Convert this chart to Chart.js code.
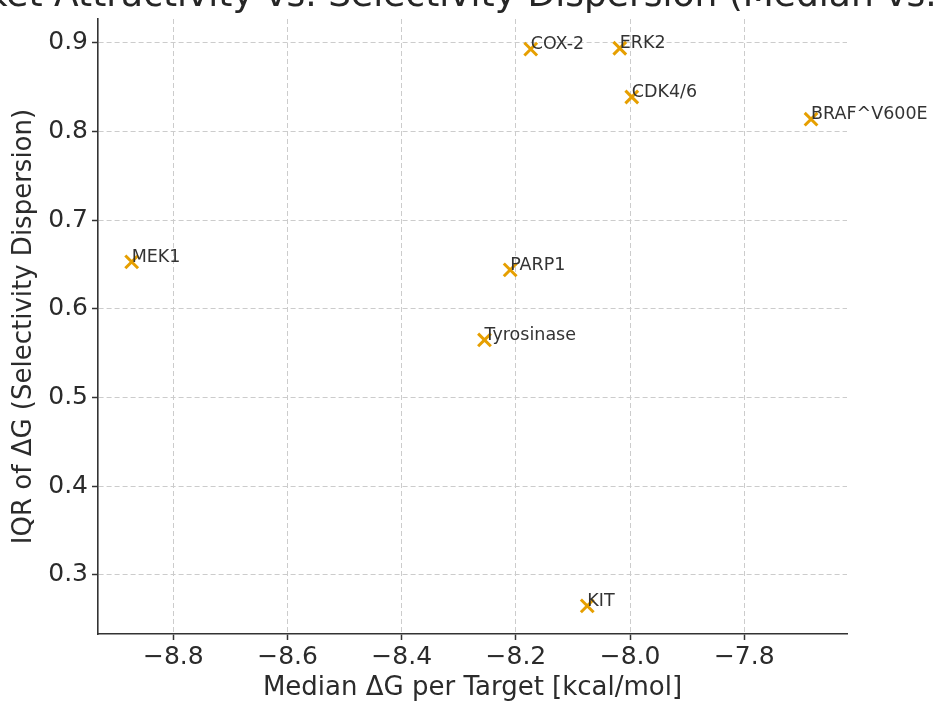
<!DOCTYPE html>
<html>
<head>
<meta charset="utf-8">
<script src="https://cdn.jsdelivr.net/npm/chart.js@4.4.0/dist/chart.umd.min.js"></script>
<style>
  html, body { margin: 0; padding: 0; background: #ffffff; }
  #wrap { width: 933px; height: 702px; }
</style>
</head>
<body>
<div id="wrap"><canvas id="c" width="933" height="702"></canvas></div>
<script>
const targets = ["MEK1", "COX-2", "ERK2", "CDK4/6", "BRAF^V600E", "PARP1", "Tyrosinase", "KIT"];
const medianDG = [-8.873, -8.174, -8.018, -7.997, -7.683, -8.210, -8.255, -8.075];
const iqrDG = [0.653, 0.893, 0.894, 0.839, 0.814, 0.644, 0.565, 0.265];
const xTickValues = [-8.8, -8.6, -8.4, -8.2, -8.0, -7.8];
const yTickValues = [0.3, 0.4, 0.5, 0.6, 0.7, 0.8, 0.9];
const titleText = "Market Attractivity vs. Selectivity Dispersion (Median vs. IQR)";
const xTitle = "Median ΔG per Target [kcal/mol]";
const yTitle = "IQR of ΔG (Selectivity Dispersion)";

const FONT = "'DejaVu Sans', 'Liberation Sans', sans-serif";
const TEXT = '#2b2b2b';

const points = medianDG.map((x, i) => ({ x: x, y: iqrDG[i] }));

const labelPlugin = {
  id: 'pointLabels',
  afterDatasetsDraw(chart) {
    const ctx = chart.ctx;
    const meta = chart.getDatasetMeta(0);
    ctx.save();
    ctx.font = "17.5px " + FONT;
    ctx.fillStyle = '#333333';
    ctx.textAlign = 'left';
    ctx.textBaseline = 'alphabetic';
    meta.data.forEach((el, i) => {
      ctx.fillText(targets[i], el.x, el.y);
    });
    ctx.restore();
  }
};

const titlePlugin = {
  id: 'topTitle',
  afterDraw(chart) {
    const ctx = chart.ctx;
    const a = chart.chartArea;
    ctx.save();
    ctx.font = "36px " + FONT;
    ctx.fillStyle = '#262626';
    ctx.textAlign = 'center';
    ctx.textBaseline = 'alphabetic';
    ctx.fillText(titleText, (a.left + a.right) / 2, 6);
    ctx.restore();
  }
};

new Chart(document.getElementById('c'), {
  type: 'scatter',
  data: {
    datasets: [{
      data: points,
      pointStyle: 'crossRot',
      pointRadius: 9,
      pointHoverRadius: 9,
      borderColor: '#E69F00',
      backgroundColor: '#E69F00',
      pointBorderWidth: 3
    }]
  },
  options: {
    responsive: false,
    animation: false,
    devicePixelRatio: 1,
    layout: { padding: { left: 0, right: 86, top: 16, bottom: 0 } },
    plugins: { legend: { display: false }, tooltip: { enabled: false } },
    scales: {
      x: {
        type: 'linear',
        min: -8.932,
        max: -7.62,
        afterBuildTicks: (s) => { s.ticks = xTickValues.map(v => ({ value: v })); },
        afterFit: (s) => { s.height = 68; },
        ticks: {
          font: { family: FONT, size: 25 },
          color: TEXT,
          padding: 2,
          maxRotation: 0,
          autoSkip: false,
          callback: (v) => (v < 0 ? '\u2212' : '') + Math.abs(v).toFixed(1)
        },
        grid: { color: '#cccccc', lineWidth: 1, tickLength: 6, tickColor: '#333333', tickWidth: 1.5 },
        border: { display: true, color: '#333333', width: 1.6, dash: [5, 3] },
        title: {
          display: true, text: xTitle, color: TEXT,
          font: { family: FONT, size: 26, lineHeight: 1.0 },
          padding: { top: 0, bottom: 1 }
        }
      },
      y: {
        type: 'linear',
        min: 0.2333,
        max: 0.927,
        afterBuildTicks: (s) => { s.ticks = yTickValues.map(v => ({ value: v })); },
        afterFit: (s) => { s.width = 98; },
        ticks: {
          font: { family: FONT, size: 25 },
          color: TEXT,
          padding: 4,
          autoSkip: false,
          callback: (v) => v.toFixed(1)
        },
        grid: { color: '#cccccc', lineWidth: 1, tickLength: 6, tickColor: '#333333', tickWidth: 1.5 },
        border: { display: true, color: '#333333', width: 1.6, dash: [5, 3] },
        title: {
          display: true, text: yTitle, color: TEXT,
          font: { family: FONT, size: 26, lineHeight: 1.0 },
          padding: { top: 11, bottom: 0 }
        }
      }
    }
  },
  plugins: [labelPlugin, titlePlugin]
});
</script>
</body>
</html>
